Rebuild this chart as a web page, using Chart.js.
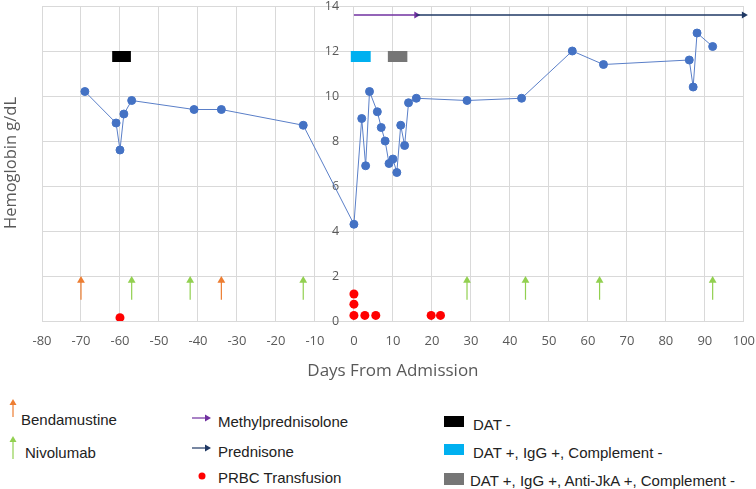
<!DOCTYPE html>
<html>
<head>
<meta charset="utf-8">
<title>Hemoglobin timeline</title>
<script src="https://cdn.jsdelivr.net/npm/chart.js@4.4.1/dist/chart.umd.min.js"></script>
<style>
    body { margin: 0; background: #fff; }
    #page { position: relative; width: 756px; height: 489px; overflow: hidden; font-family: "Liberation Sans", Arial, sans-serif; }
    #chart-box { position: absolute; left: 0; top: -2px; width: 767px; height: 383px; }
    .y-title { position: absolute; left: 9px; top: 163px; transform: translate(-50%, -50%) rotate(-90deg); font: 16.5px "Open Sans", sans-serif; color: #595959; white-space: nowrap; }
    .key { position: absolute; font-size: 15px; color: #222; white-space: nowrap; transform: translateY(-50%); }
    .icon { position: absolute; }
    .swatch { position: absolute; left: 444px; width: 20px; height: 11px; }
</style>
</head>
<body>
<div id="page">
    <div id="chart-box"><canvas id="chart" width="767" height="383"></canvas></div>
    <div class="y-title">Hemoglobin g/dL</div>

    <svg class="icon" style="left:9px;top:399px" width="8" height="18">
        <line x1="4" y1="3" x2="4" y2="18" stroke="#ED7D31" stroke-width="1.2"/>
        <polygon points="0.5,6 4,0 7.5,6" fill="#ED7D31"/>
    </svg>
    <div class="key" style="left:21px;top:419px">Bendamustine</div>
    <svg class="icon" style="left:9px;top:436px" width="8" height="23">
        <line x1="4" y1="3" x2="4" y2="23" stroke="#92D050" stroke-width="1.2"/>
        <polygon points="0.5,6 4,0 7.5,6" fill="#92D050"/>
    </svg>
    <div class="key" style="left:25px;top:452px">Nivolumab</div>

    <svg class="icon" style="left:192px;top:414px" width="20" height="8">
        <line x1="0" y1="4" x2="14" y2="4" stroke="#7030A0" stroke-width="1.2"/>
        <polygon points="13,0.5 19,4 13,7.5" fill="#7030A0"/>
    </svg>
    <div class="key" style="left:218px;top:421px">Methylprednisolone</div>
    <svg class="icon" style="left:192px;top:444px" width="20" height="8">
        <line x1="0" y1="4" x2="14" y2="4" stroke="#1F3864" stroke-width="1.2"/>
        <polygon points="13,0.5 19,4 13,7.5" fill="#1F3864"/>
    </svg>
    <div class="key" style="left:218px;top:451px">Prednisone</div>
    <svg class="icon" style="left:198px;top:472px" width="8" height="8">
        <circle cx="4" cy="4" r="3.5" fill="#FF0000"/>
    </svg>
    <div class="key" style="left:218px;top:477px">PRBC Transfusion</div>

    <div class="swatch" style="top:416px;background:#000000"></div>
    <div class="key" style="left:473px;top:424px">DAT -</div>
    <div class="swatch" style="top:444px;background:#00B0F0"></div>
    <div class="key" style="left:473px;top:452px">DAT +, IgG +, Complement -</div>
    <div class="swatch" style="top:473px;height:12px;background:#767676"></div>
    <div class="key" style="left:470px;top:480px">DAT +, IgG +, Anti-JkA +, Complement -</div>
</div>

<script>
// hemoglobin measurements
const hgbDays = [-69, -61, -60, -59, -57, -41, -34, -13, 0, 2, 3, 4, 6, 7, 8, 9, 10, 11, 12, 13, 14, 16, 29, 43, 56, 64, 86, 87, 88, 92];
const hgbValues = [10.2, 8.8, 7.6, 9.2, 9.8, 9.4, 9.4, 8.7, 4.3, 9.0, 6.9, 10.2, 9.3, 8.6, 8.0, 7.0, 7.2, 6.6, 8.7, 7.8, 9.7, 9.9, 9.8, 9.9, 12.0, 11.4, 11.6, 10.4, 12.8, 12.2];

// PRBC transfusions (stacked dots near the axis)
const transfusionDays = [-60, 0, 0, 0, 2.8, 5.6, 19.8, 22.2];
const transfusionMarks = [0.15, 1.2, 0.75, 0.25, 0.25, 0.25, 0.25, 0.25];

// drug doses, drawn as up arrows
const bendamustineDays = [-70, -34];
const nivolumabDays = [-57, -42, -13, 29, 44, 63, 92];
const arrowBase = 0.95;
const arrowTip = 1.8;

// steroid courses, drawn as right arrows
const methylpredDays = [0, 16];
const prednisoneDays = [16, 100];
const steroidLevel = 13.6;

// DAT results
const datStart = [-62, -0.8, 8.7];
const datEnd = [-57.2, 4.3, 13.7];
const datColors = ['#000000', '#00B0F0', '#767676'];
const datLevel = 11.76;

// axes
const dayMin = -80, dayMax = 100, dayStep = 10;
const hgbMin = 0, hgbMax = 14, hgbStep = 2;

document.addEventListener('DOMContentLoaded', () => {
    const ctx = document.getElementById('chart').getContext('2d');
    const toPoints = (xs, ys) => xs.map((x, i) => ({ x: x, y: ys[i] }));

    const upArrow = (day, color) => ({
        data: [{ x: day, y: arrowBase }, { x: day, y: arrowTip }],
        borderColor: color,
        backgroundColor: color,
        borderWidth: 1.2,
        pointRadius: [0, 4.5],
        pointBorderWidth: 0,
        pointStyle: 'triangle'
    });

    const rightArrow = (days, color) => ({
        data: days.map(d => ({ x: d, y: steroidLevel })),
        borderColor: color,
        backgroundColor: color,
        borderWidth: 1.5,
        pointRadius: [0, 4],
        pointBorderWidth: 0,
        pointStyle: 'triangle',
        pointRotation: 90,
        clip: 10
    });

    const datBox = (i) => ({
        data: [{ x: datStart[i], y: datLevel }, { x: datEnd[i], y: datLevel }],
        borderColor: datColors[i],
        borderWidth: 11,
        borderCapStyle: 'butt',
        pointRadius: 0
    });

    const datasets = [
        ...datStart.map((_, i) => datBox(i)),
        ...bendamustineDays.map(d => upArrow(d, '#ED7D31')),
        ...nivolumabDays.map(d => upArrow(d, '#92D050')),
        rightArrow(prednisoneDays, '#1F3864'),
        rightArrow(methylpredDays, '#7030A0'),
        {
            data: toPoints(transfusionDays, transfusionMarks),
            showLine: false,
            pointRadius: 4.5,
            pointBackgroundColor: '#FF0000',
            pointBorderColor: '#FF0000',
            pointBorderWidth: 0
        },
        {
            data: toPoints(hgbDays, hgbValues),
            borderColor: '#5A7FC8',
            borderWidth: 1,
            pointRadius: 4,
            pointBackgroundColor: '#4472C4',
            pointBorderColor: '#4472C4',
            pointBorderWidth: 1
        }
    ];

    new Chart(ctx, {
        type: 'line',
        data: { datasets: datasets },
        options: {
            responsive: false,
            animation: false,
            events: [],
            layout: { padding: { left: 42, right: 12, top: 8, bottom: 0 } },
            plugins: {
                legend: { display: false },
                tooltip: { enabled: false }
            },
            scales: {
                x: {
                    type: 'linear',
                    min: dayMin,
                    max: dayMax,
                    ticks: {
                        stepSize: dayStep,
                        color: '#595959',
                        font: { family: 'Open Sans', size: 13 },
                        padding: 12
                    },
                    grid: { color: '#d9d9d9', drawTicks: false },
                    border: { color: '#d9d9d9' },
                    title: {
                        display: true,
                        text: 'Days From Admission',
                        color: '#595959',
                        font: { family: 'Open Sans', size: 17 },
                        padding: { top: 0, bottom: 0 }
                    }
                },
                y: {
                    type: 'linear',
                    // labels sit just left of the day-0 gridline
                    position: { x: -3.8 },
                    min: hgbMin,
                    max: hgbMax,
                    ticks: {
                        stepSize: hgbStep,
                        color: '#595959',
                        font: { family: 'Open Sans', size: 12.5 },
                        padding: 0
                    },
                    grid: { color: '#d9d9d9', drawTicks: false },
                    border: { display: false }
                }
            }
        }
    });
});
</script>
</body>
</html>
